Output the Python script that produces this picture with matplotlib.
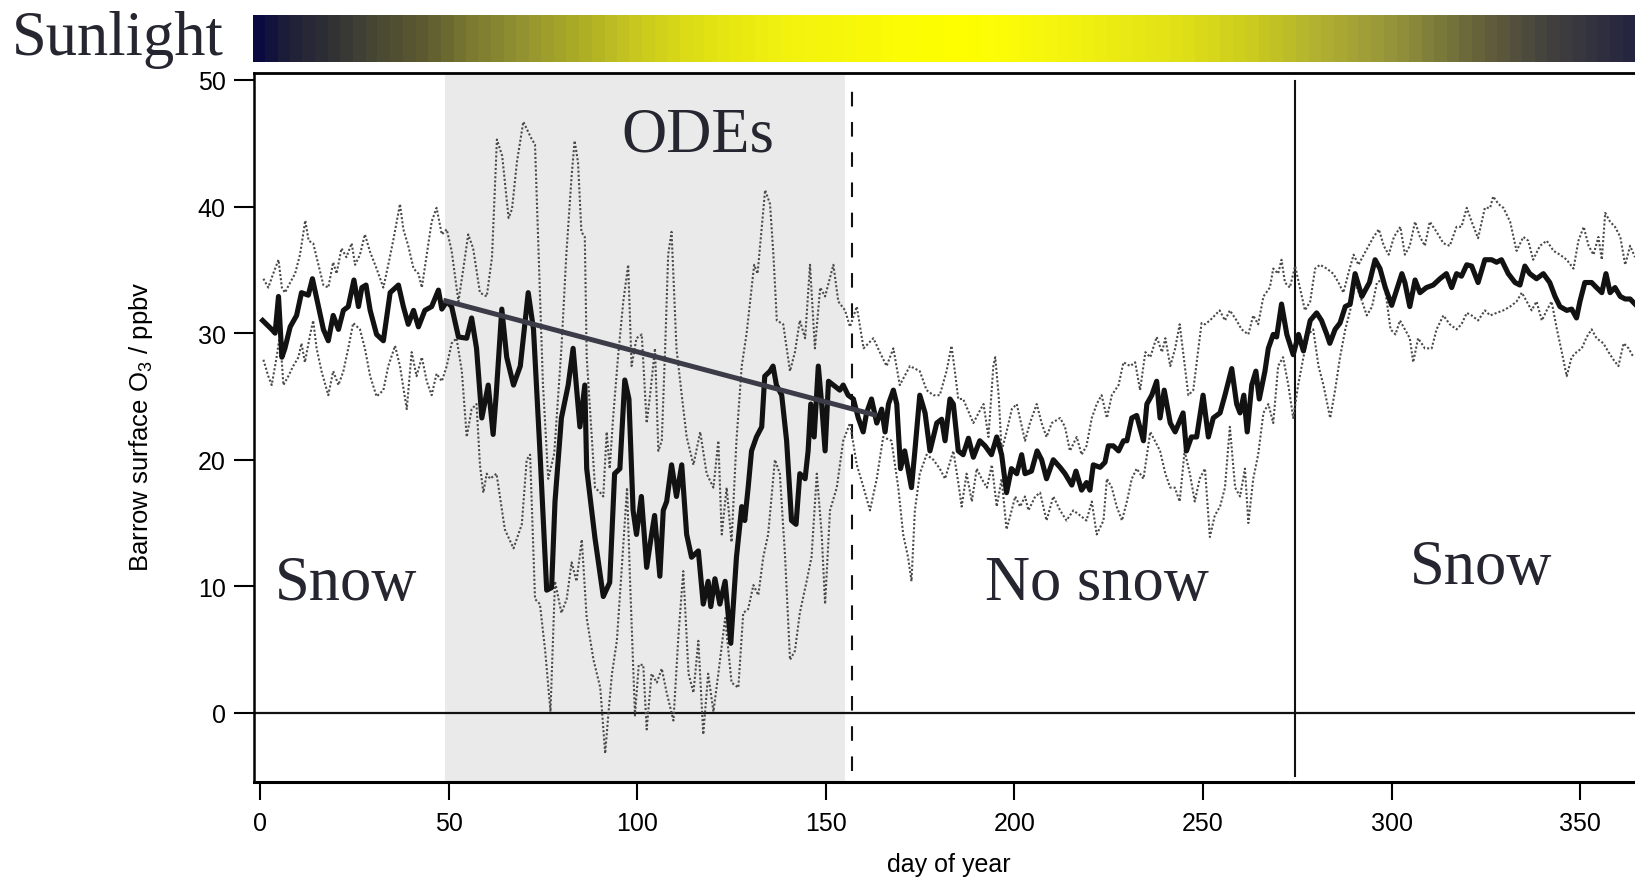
import numpy as np
import matplotlib
matplotlib.use('Agg')
import matplotlib.pyplot as plt
from matplotlib.colors import LinearSegmentedColormap

plt.rcParams['font.family'] = ['Liberation Sans', 'DejaVu Sans']
plt.rcParams['mathtext.fontset'] = 'custom'
plt.rcParams['mathtext.rm'] = 'Liberation Sans'

# daily mean surface ozone at Barrow (ppbv)
mean_day = [0.7, 3.1, 4.0, 4.9, 5.8, 6.6, 8.0, 9.7, 11.0, 12.8, 13.9, 15.5, 16.8, 18.1, 19.4,
            20.8, 22.1, 23.4, 24.9, 26.1, 27.0, 28.1, 29.2, 30.9, 32.7, 34.5, 36.7, 38.0, 39.3,
            40.7, 42.0, 43.7, 45.5, 47.3, 48.2, 49.5, 50.8, 52.6, 54.8, 56.1, 57.4, 58.8, 60.5,
            61.8, 62.6, 64.1, 65.4, 67.2, 69.0, 71.1, 72.5, 74.2, 76.0, 77.3, 78.2, 79.9, 81.7,
            83.0, 84.8, 86.1, 86.6, 88.8, 91.0, 92.7, 94.0, 95.4, 96.7, 97.8, 98.9, 99.8, 101.1,
            102.5, 103.8, 104.6, 106.0, 106.9, 107.8, 109.1, 110.4, 111.8, 113.1, 114.4, 116.2,
            117.5, 118.8, 119.5, 120.6, 121.9, 123.3, 124.8, 126.3, 127.7, 128.5, 129.4, 130.3,
            131.6, 133.0, 133.8, 135.2, 136.0, 136.9, 138.3, 139.6, 140.9, 142.1, 143.1, 144.5,
            145.3, 146.0, 146.9, 148.0, 148.9, 149.8, 150.7, 152.0, 153.7, 154.6, 155.9, 157.3,
            158.6, 159.9, 160.8, 162.1, 163.5, 164.8, 165.7, 166.6, 167.9, 168.8, 169.8, 170.9,
            172.7, 173.6, 174.9, 176.3, 177.6, 179.4, 180.7, 181.6, 182.9, 183.8, 185.1, 186.4,
            187.8, 189.1, 190.8, 192.2, 193.9, 195.3, 196.6, 197.9, 199.2, 200.6, 201.9, 202.8,
            204.5, 206.0, 207.2, 208.5, 210.3, 212.1, 213.4, 215.2, 216.3, 217.8, 219.1, 220.0,
            220.9, 222.7, 224.0, 224.9, 226.2, 227.6, 228.9, 229.8, 231.1, 232.4, 234.2, 235.1,
            236.4, 237.7, 238.6, 239.7, 241.3, 242.6, 244.7, 245.6, 246.9, 248.3, 250.0, 251.4,
            252.7, 254.5, 255.8, 257.6, 258.9, 259.8, 260.8, 261.7, 262.9, 264.0, 264.9, 266.4,
            267.3, 268.6, 269.5, 270.8, 272.2, 273.9, 275.3, 276.6, 278.4, 280.1, 281.4, 282.8,
            283.6, 285.0, 286.3, 287.7, 289.0, 290.3, 292.1, 294.1, 295.6, 296.9, 298.3, 300.0,
            302.7, 303.5, 304.8, 306.2, 307.5, 309.2, 311.0, 312.8, 314.5, 315.9, 317.2, 318.5,
            319.9, 321.2, 322.9, 324.7, 326.5, 327.8, 329.1, 330.9, 332.7, 334.0, 335.3, 336.6,
            338.4, 340.2, 341.9, 343.3, 344.6, 346.4, 347.7, 349.0, 349.9, 351.2, 353.0, 354.3,
            355.7, 356.8, 357.9, 359.2, 360.6, 361.9, 363.2, 364.5]
mean_o3 = [31.0, 30.3, 30.0, 32.9, 28.1, 28.8, 30.5, 31.4, 33.2, 33.0, 34.3, 32.1, 30.3, 29.4, 31.4,
           30.3, 31.8, 32.1, 34.2, 32.1, 33.6, 33.8, 31.8, 29.9, 29.4, 33.2, 33.8, 32.1, 30.7,
           31.8, 30.5, 31.8, 32.1, 33.4, 31.9, 32.5, 32.1, 29.7, 29.6, 31.2, 28.8, 23.3, 25.9,
           22.0, 25.1, 31.9, 28.1, 25.9, 27.4, 33.2, 30.3, 20.7, 9.7, 9.9, 16.7, 23.3, 25.9,
           28.8, 22.6, 25.9, 19.3, 13.8, 9.2, 10.3, 18.9, 19.3, 26.3, 24.8, 16.0, 14.1, 17.1,
           11.5, 14.1, 15.6, 10.8, 16.0, 16.7, 19.6, 17.1, 19.6, 14.1, 12.3, 12.8,
           8.6, 10.4, 8.4, 10.6, 8.6, 10.4, 5.5, 12.3, 16.3, 15.2, 17.8, 20.7,
           21.8, 22.6, 26.6, 27.0, 27.4, 25.9, 25.1, 21.5, 15.2, 14.9, 18.9, 18.5,
           20.7, 24.4, 21.8, 27.4, 24.4, 20.7, 26.2, 25.9, 25.5, 25.9, 25.1, 24.8,
           23.3, 22.2, 23.7, 24.8, 22.9, 24.0, 22.2, 24.4, 25.5, 24.4, 19.3, 20.7,
           17.8, 20.7, 25.1, 23.7, 20.7, 22.9, 23.2, 21.5, 24.8, 24.4, 20.7, 20.4,
           21.7, 20.2, 21.5, 21.1, 20.4, 21.8, 20.4, 17.4, 19.3, 18.9, 20.4, 18.9,
           19.1, 20.7, 20.0, 18.5, 20.0, 19.4, 18.9, 18.0, 19.1, 17.6, 18.2, 17.6,
           19.6, 19.4, 19.8, 21.1, 21.1, 20.7, 21.5, 21.5, 23.3, 23.5, 21.5, 24.4,
           25.1, 26.2, 23.3, 25.5, 22.9, 22.2, 23.7, 20.7, 21.8, 21.8, 25.1, 21.8,
           23.3, 23.7, 25.1, 27.2, 24.4, 23.7, 25.1, 22.2, 25.9, 27.0, 24.8, 27.0,
           28.8, 29.9, 29.7, 32.3, 29.9, 28.3, 29.9, 28.6, 31.0, 31.6, 31.0, 29.9,
           29.2, 30.3, 30.8, 32.1, 32.3, 34.7, 32.9, 34.0, 35.8, 35.1, 33.6, 32.2,
           34.7, 34.0, 32.1, 34.2, 33.2, 33.6, 33.8, 34.3, 34.7, 33.6, 34.7, 34.5,
           35.4, 35.3, 34.0, 35.8, 35.8, 35.6, 35.8, 34.7, 34.0, 33.8, 35.3, 34.7,
           34.3, 34.7, 34.0, 32.9, 32.1, 31.8, 31.9, 31.2, 32.5, 34.0, 34.0, 33.6,
           33.2, 34.7, 33.2, 33.6, 32.9, 32.7, 32.7, 32.3]

# upper envelope
hi_day = [0.9, 2.2, 3.5, 4.9, 5.8, 6.6, 8.0, 9.3, 10.6, 12.0, 12.9, 14.1, 15.5, 16.8, 18.1, 19.4,
          20.3, 21.6, 22.9, 24.3, 25.2, 26.5, 27.8, 29.2, 30.9, 32.7, 34.0, 35.3, 37.1, 38.0,
          39.3, 40.7, 42.0, 42.9, 44.2, 45.5, 46.8, 48.2, 49.5, 50.8, 52.6, 53.9, 55.2, 56.5,
          58.3, 60.1, 61.5, 62.8, 64.2, 65.9, 66.8, 68.1, 69.8, 71.9, 72.9, 74.0, 75.0, 76.4,
          78.0, 79.9, 81.2, 82.6, 83.4, 84.3, 85.2, 86.1, 86.6, 88.8, 90.2, 91.0, 91.9, 92.7,
          93.6, 94.9, 96.3, 97.6, 98.5, 99.8, 101.2, 102.5, 103.4, 104.7, 105.6, 106.5, 107.4,
          108.2, 109.1, 110.4, 111.8, 113.1, 114.9, 116.7, 118.4, 120.2, 121.5, 122.4, 123.7,
          125.0, 126.3, 127.7, 129.0, 131.0, 131.9, 133.9, 135.2, 136.1, 137.0, 138.7, 140.5,
          141.8, 143.1, 144.5, 145.8, 147.1, 148.5, 149.8, 152.0, 153.3, 155.1, 156.4, 158.2,
          160.0, 162.6, 164.3, 166.1, 167.9, 169.6, 172.3, 174.9, 176.7, 178.5, 180.2, 182.0,
          183.3, 184.2, 185.1, 186.4, 189.1, 190.5, 191.8, 193.1, 194.4, 194.9, 195.8, 196.6,
          197.9, 199.3, 200.6, 202.8, 204.1, 205.9, 207.2, 208.5, 209.9, 212.1, 213.4, 214.7,
          216.5, 217.8, 219.1, 220.5, 221.8, 223.1, 224.5, 225.8, 227.6, 228.9, 230.7, 232.0,
          233.3, 234.7, 236.0, 237.7, 239.1, 240.0, 241.3, 242.6, 243.8, 246.1, 247.4, 249.6,
          250.5, 251.8, 253.1, 254.4, 255.8, 257.1, 258.9, 260.2, 262.0, 263.3, 264.6, 266.0,
          267.7, 268.6, 269.9, 270.8, 271.7, 273.0, 274.4, 277.0, 278.4, 279.7, 281.0, 282.8,
          284.5, 285.9, 287.2, 288.5, 289.9, 291.2, 292.6, 293.9, 295.2, 296.6, 297.9, 299.2,
          300.6, 302.3, 303.5, 304.8, 306.2, 307.5, 308.8, 310.1, 311.9, 313.7, 315.4, 317.2,
          318.5, 319.9, 321.2, 322.9, 324.7, 326.1, 326.9, 328.3, 329.6, 331.4, 333.1, 334.9,
          336.2, 337.5, 339.3, 341.1, 342.9, 344.6, 346.4, 348.2, 349.5, 350.9, 352.2, 353.5,
          354.8, 355.7, 356.6, 357.9, 359.2, 360.6, 361.9, 363.2, 364.5]
hi_o3 = [34.3, 33.6, 34.7, 35.8, 33.6, 33.2, 34.0, 34.7, 36.2, 38.9, 37.3, 37.1, 35.4, 33.8, 33.6, 35.6,
         34.7, 36.7, 36.0, 37.1, 35.4, 36.2, 37.8, 36.4, 35.1, 33.6, 35.4, 37.3, 40.2, 38.2,
         36.9, 35.1, 34.7, 33.6, 36.2, 38.8, 39.9, 37.8, 38.2, 36.5, 32.5, 35.1, 37.8, 36.7,
         33.2, 32.9, 36.0, 45.3, 44.0, 39.1, 39.8, 43.5, 46.7, 45.4, 44.9, 35.0, 26.0, 18.5,
         20.5, 28.8, 36.2, 42.4, 45.2, 43.5, 38.0, 37.6, 28.1, 17.8, 17.4, 17.1, 22.2, 19.3,
         23.3, 28.1, 32.5, 35.4, 27.4, 29.6, 29.9, 22.9, 25.1, 28.8, 20.7, 21.5, 28.8,
         36.2, 38.0, 28.8, 25.1, 21.8, 19.6, 22.2, 18.9, 17.8, 21.5, 14.1, 17.8,
         13.5, 21.5, 27.4, 30.0, 35.4, 34.7, 41.3, 40.2, 36.2, 31.0, 30.7, 27.0,
         28.5, 31.0, 29.6, 35.4, 28.8, 33.6, 32.9, 35.4, 32.5, 31.8, 30.5, 32.1,
         28.8, 29.6, 28.5, 27.4, 28.8, 25.9, 27.4, 27.0, 25.5, 25.1, 25.1, 27.0,
         29.0, 27.0, 24.8, 24.8, 22.9, 23.7, 24.4, 21.8, 27.4, 28.1, 25.1, 20.7,
         22.2, 24.0, 24.4, 21.5, 22.9, 24.4, 22.9, 21.8, 22.9, 23.3, 22.6, 20.7,
         21.8, 20.4, 21.1, 23.3, 24.4, 25.1, 23.3, 25.1, 25.9, 27.7, 27.4, 27.7,
         25.5, 28.5, 28.1, 29.7, 28.5, 29.6, 27.4, 28.8, 30.7, 25.1, 25.5, 30.8,
         30.7, 31.0, 31.4, 31.8, 31.0, 31.8, 31.0, 30.3, 29.9, 31.4, 30.7, 32.9,
         33.6, 35.1, 34.7, 35.8, 34.0, 33.6, 35.3, 31.8, 32.5, 35.1, 35.4, 35.1,
         34.7, 34.0, 33.2, 34.7, 36.2, 35.4, 36.2, 36.9, 37.6, 38.2, 36.9, 36.2,
         37.6, 38.4, 36.2, 36.9, 38.8, 37.6, 36.9, 38.8, 38.0, 37.1, 36.9, 38.4,
         38.4, 39.9, 38.8, 37.5, 39.9, 39.9, 40.8, 40.2, 39.9, 38.8, 36.5, 37.6,
         37.3, 35.8, 36.9, 37.3, 36.5, 36.2, 35.8, 35.1, 37.3, 38.4, 36.9, 36.2,
         37.6, 35.8, 39.5, 38.8, 38.4, 37.6, 35.4, 36.9, 36.0]

# lower envelope
lo_day = [0.9, 2.2, 3.1, 4.4, 5.3, 6.2, 7.5, 8.8, 10.2, 11.0, 11.9, 13.3, 14.1, 15.0, 16.3, 18.1,
          19.4, 20.8, 22.1, 23.4, 24.7, 26.5, 27.8, 29.2, 30.9, 32.7, 34.0, 35.8, 37.1, 38.9,
          40.2, 41.5, 42.9, 44.2, 45.5, 46.8, 48.2, 49.5, 50.8, 52.1, 53.5, 54.8, 56.1, 57.4,
          58.3, 59.2, 60.1, 61.0, 62.7, 64.9, 67.2, 69.4, 70.7, 71.6, 72.9, 74.2, 75.6, 77.0,
          78.2, 79.9, 81.3, 82.6, 83.9, 85.3, 86.6, 88.4, 90.2, 91.5, 92.4, 93.3, 94.6, 96.0,
          97.3, 98.1, 99.4, 100.4, 101.6, 102.5, 103.8, 105.2, 106.5, 107.8, 109.6, 110.9,
          112.2, 113.6, 114.9, 116.2, 117.5, 118.8, 120.2, 121.5, 123.3, 125.0, 126.8, 128.1,
          129.4, 130.8, 132.1, 133.4, 134.7, 136.5, 137.8, 139.2, 140.5, 141.8, 143.1, 144.9,
          146.2, 147.6, 148.9, 149.8, 151.1, 152.9, 154.6, 156.4, 158.2, 160.0, 161.7, 163.5,
          165.2, 167.4, 169.2, 170.5, 171.8, 172.7, 173.6, 174.9, 176.7, 178.5, 180.2, 181.6,
          183.8, 185.1, 186.0, 187.3, 188.7, 190.0, 191.3, 192.7, 194.0, 195.3, 196.6, 197.9,
          198.9, 200.2, 201.5, 202.8, 203.7, 205.5, 206.8, 208.5, 210.3, 212.1, 213.8, 215.6,
          217.4, 219.1, 220.5, 221.8, 223.6, 224.5, 225.8, 227.1, 228.5, 229.8, 231.1, 232.4,
          234.2, 236.0, 238.6, 240.0, 241.3, 242.5, 243.8, 245.1, 246.5, 247.8, 249.1, 250.5,
          251.8, 253.1, 254.5, 255.8, 257.1, 258.5, 259.8, 261.1, 262.0, 263.3, 264.6, 266.0,
          267.3, 268.6, 269.9, 271.2, 272.6, 273.9, 275.2, 276.6, 277.9, 279.2, 280.6, 281.9,
          283.7, 285.0, 286.3, 287.7, 289.0, 290.3, 291.7, 293.4, 294.8, 296.1, 297.9, 299.7,
          301.0, 302.2, 303.5, 304.8, 305.7, 307.0, 308.8, 310.6, 311.9, 313.7, 315.4, 317.2,
          318.5, 319.9, 321.2, 322.9, 324.7, 326.1, 327.8, 329.6, 331.4, 333.1, 334.5, 335.8,
          337.1, 338.4, 339.8, 341.1, 342.4, 343.8, 345.1, 346.4, 347.7, 349.0, 350.4, 351.7,
          353.0, 354.3, 356.1, 357.5, 358.8, 360.1, 361.5, 362.8, 364.1]
lo_o3 = [27.9, 26.6, 25.9, 28.1, 29.9, 25.9, 26.6, 27.4, 28.1, 29.2, 27.7, 29.9, 31.0, 28.8, 27.0, 25.1,
         27.0, 25.9, 27.0, 28.8, 30.8, 30.3, 28.8, 26.6, 25.0, 25.5, 27.4, 29.0, 27.4, 24.0,
         28.5, 26.6, 28.1, 26.2, 25.1, 26.8, 26.2, 27.4, 29.2, 29.6, 27.0, 21.8, 24.0, 24.4,
         19.6, 17.4, 18.9, 18.5, 18.9, 14.5, 13.0, 14.9, 20.0, 20.4, 9.0, 8.6, 4.9, 0.1,
         10.4, 7.9, 9.0, 11.9, 10.4, 13.7, 7.5, 4.2, 2.0, -3.2, 0.1, 3.1, 5.7, 11.9,
         17.8, 10.4, -0.2, 3.8, 3.8, -1.3, 3.1, 2.4, 3.5, 1.6, -0.6, 6.0,
         11.2, 3.1, 1.6, 5.7, -1.7, 3.1, 0.1, 3.1, 7.5, 2.4, 2.0, 7.9,
         8.2, 10.1, 9.3, 12.3, 14.1, 20.0, 18.9, 12.3, 4.2, 4.9, 7.9, 10.4,
         12.3, 18.9, 14.1, 8.6, 16.0, 17.8, 21.5, 22.9, 19.6, 17.8, 16.0, 18.5,
         21.8, 21.5, 17.8, 14.1, 12.3, 10.4, 16.0, 18.9, 20.4, 20.0, 19.3, 18.5,
         20.7, 18.2, 16.3, 18.9, 16.7, 19.3, 18.5, 17.8, 19.6, 16.3, 18.5, 14.5,
         15.6, 17.1, 16.3, 17.1, 16.0, 17.1, 17.4, 15.2, 17.1, 16.0, 15.2, 16.0,
         15.6, 15.2, 16.7, 14.1, 15.2, 18.5, 17.8, 16.3, 15.2, 16.7, 18.5, 19.3,
         18.5, 22.2, 20.7, 18.9, 17.8, 17.8, 16.7, 20.7, 18.9, 16.7, 18.5, 19.3,
         13.9, 15.6, 16.3, 17.8, 22.6, 17.8, 17.1, 19.3, 15.0, 18.5, 20.4, 23.7,
         24.4, 22.9, 27.4, 28.1, 25.9, 23.3, 25.9, 28.1, 29.9, 30.3, 27.4, 25.9,
         23.3, 25.5, 28.1, 30.3, 31.8, 34.0, 32.9, 31.4, 32.1, 34.0, 34.3, 30.3,
         29.9, 31.0, 30.3, 29.6, 27.7, 29.6, 28.8, 28.8, 30.3, 31.4, 30.7, 30.3,
         30.7, 31.6, 31.4, 31.0, 31.8, 31.4, 31.6, 31.8, 32.1, 32.5, 33.2, 32.5,
         31.8, 32.5, 31.0, 31.8, 32.5, 30.3, 28.5, 26.6, 28.1, 28.5, 28.8, 29.7,
         30.3, 29.6, 29.2, 28.5, 27.9, 27.4, 29.2, 28.8, 28.1]

# ODE season, snow melt / snow onset and the spring decline
ode_start, ode_end = 49.0, 155.1
melt_day = 156.8
onset_day = 274.3
trend_day = [48.6, 163.5]
trend_o3 = [32.6, 23.5]

# sunlight colour stops along the year
sun_day = [-1.9, 5.8, 17, 28, 42, 56, 70, 83.5, 97.5, 111, 125, 139, 169, 185.5, 197,
           217, 245, 265.6, 279, 300, 314, 327.6, 341, 355, 364.5]
sun_color = ['#0a0a40', '#1e1e3a', '#303035', '#454535', '#5d5a30', '#7d7c30', '#959530',
             '#acac28', '#c5c520', '#dada18', '#e8e810', '#f2f210', '#fcfc05', '#ffff00',
             '#fcfc08', '#f2f210', '#e0e018', '#c8c820', '#b5b530', '#98963a', '#7a7a3a',
             '#605c3c', '#45443e', '#333340', '#25253f']

W, H = 1635, 879
xmin, xmax = -1.54, 364.5
ymin, ymax = -5.43, 50.55
text_col = '#262631'

fig = plt.figure(figsize=(W / 100, H / 100), dpi=100)
ax = fig.add_axes([254.2 / W, 1 - 782.7 / H, 1 - 254.2 / W, (782.7 - 74) / H])

ax.axvspan(ode_start, ode_end, color='#e9eae9', lw=0, zorder=0)
ax.axhline(0, color='#111111', lw=1.6, zorder=1)
ax.plot([melt_day, melt_day], [-4.6, 49.9], color='#111111', lw=1.5,
        dashes=(7, 7.5), zorder=1)
ax.plot([onset_day, onset_day], [-5.0, 49.9], color='#111111', lw=1.5, zorder=1)

ax.plot(hi_day, hi_o3, color='#4a4a4a', lw=1.5, ls=(0, (1, 1.0)), zorder=2)
ax.plot(lo_day, lo_o3, color='#4a4a4a', lw=1.5, ls=(0, (1, 1.0)), zorder=2)
ax.plot(mean_day, mean_o3, color='#121212', lw=3.7, solid_joinstyle='round', zorder=3)
ax.plot(trend_day, trend_o3, color='#3c3c48', lw=3.6, solid_capstyle='butt', zorder=4)

serif = ['Liberation Serif', 'DejaVu Serif']
ax.text(116.1, 44.4, 'ODEs', family=serif, fontsize=45, color=text_col,
        ha='center', va='baseline', zorder=5)
ax.text(4.0, 9.0, 'Snow', family=serif, fontsize=45, color=text_col, va='baseline', zorder=5)
ax.text(192.2, 9.0, 'No snow', family=serif, fontsize=45, color=text_col, va='baseline', zorder=5)
ax.text(304.8, 10.25, 'Snow', family=serif, fontsize=45, color=text_col, va='baseline', zorder=5)

ax.set_xlim(xmin, xmax)
ax.set_ylim(ymin, ymax)
ax.set_xticks(range(0, 351, 50))
ax.set_yticks(range(0, 51, 10))
ax.tick_params(axis='x', direction='out', length=13, width=1.5, pad=8, labelsize=18)
ax.tick_params(axis='y', direction='out', length=14.4, width=1.5, pad=6, labelsize=18)
ax.spines['right'].set_visible(False)
ax.spines['left'].set_linewidth(1.8)
ax.spines['bottom'].set_linewidth(2.2)
ax.spines['top'].set_linewidth(2.0)

ax.set_xlabel('day of year', fontsize=18)
ax.set_ylabel('Barrow surface O$_3$ / ppbv', fontsize=18.5)
ax.xaxis.set_label_coords((949 - 254.2) / (W - 254.2), -(865 - 782.7) / (782.7 - 74))
ax.xaxis.label.set_va('center')
ax.yaxis.set_label_coords(-(254.2 - 141) / (W - 254.2), 0.502)
ax.yaxis.label.set_va('center')

# sunlight bar above the plot
sun_pos = (np.array(sun_day) - sun_day[0]) / (sun_day[-1] - sun_day[0])
sun_cmap = LinearSegmentedColormap.from_list('sun', list(zip(sun_pos, sun_color)), N=110)
bar = fig.add_axes([253 / W, 1 - 63 / H, 1 - 253 / W, 47 / H])
days = np.linspace(xmin, xmax, 1400)
bar.imshow(days[np.newaxis, :], aspect='auto', cmap=sun_cmap,
           vmin=sun_day[0], vmax=sun_day[-1], extent=[xmin, xmax, 0, 1],
           interpolation='nearest')
bar.set_xlim(xmin, xmax)
bar.axis('off')

fig.text(12 / W, 1 - 55 / H, 'Sunlight', family=serif, fontsize=45, color=text_col,
         ha='left', va='baseline')

fig.savefig('out.png', dpi=100)
